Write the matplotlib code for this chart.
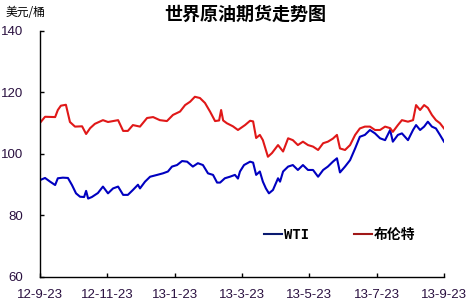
import numpy as np
import matplotlib
matplotlib.use("Agg")
import matplotlib.pyplot as plt

plt.rcParams['font.family'] = ['Liberation Sans', 'Noto Sans CJK SC', 'DejaVu Sans']

# x positions are months after 2012-09-23
brent_x = [0.03, 0.15, 0.45, 0.53, 0.62, 0.77, 0.89, 1.04, 1.25, 1.37, 1.49, 1.63, 1.87, 2.02,
           2.32, 2.47, 2.61, 2.76, 2.97, 3.18, 3.36, 3.56, 3.77, 3.95, 4.16, 4.31, 4.46, 4.60,
           4.75, 4.90, 5.05, 5.20, 5.32, 5.38, 5.44, 5.55, 5.73, 5.88, 6.09, 6.24, 6.33, 6.42,
           6.53, 6.62, 6.77, 6.89, 7.07, 7.22, 7.37, 7.51, 7.66, 7.81, 7.96, 8.11, 8.26, 8.41,
           8.55, 8.70, 8.82, 8.91, 9.06, 9.21, 9.36, 9.50, 9.65, 9.80, 9.95, 10.10, 10.25, 10.40,
           10.48, 10.63, 10.75, 10.93, 11.08, 11.17, 11.29, 11.41, 11.52, 11.64, 11.76, 11.88, 12.00]
brent = [110.5, 112.1, 112.0, 114.3, 115.7, 116.0, 110.4, 108.9, 109.0, 106.5, 108.4, 109.8, 111.0, 110.4,
         111.0, 107.5, 107.5, 109.4, 108.9, 111.7, 112.0, 111.0, 110.7, 112.7, 113.8, 115.9, 117.0, 118.6,
         118.2, 116.6, 113.8, 110.7, 110.9, 114.3, 110.9, 110.0, 109.0, 107.8, 109.4, 110.8, 110.6, 105.2,
         106.2, 104.5, 99.1, 100.3, 102.9, 100.8, 105.1, 104.5, 102.9, 104.0, 102.9, 102.4, 101.3, 103.5,
         104.0, 105.0, 106.2, 101.8, 101.3, 102.9, 106.2, 108.3, 108.9, 108.9, 107.8, 107.8, 108.9, 108.4,
         107.2, 109.4, 111.0, 110.5, 111.0, 115.9, 114.3, 115.9, 115.0, 112.7, 111.0, 110.0, 108.3]

wti_x = [0.00, 0.15, 0.30, 0.45, 0.53, 0.68, 0.83, 0.95, 1.07, 1.19, 1.31, 1.37, 1.43, 1.54, 1.72,
         1.87, 2.02, 2.17, 2.32, 2.47, 2.61, 2.76, 2.91, 2.97, 3.12, 3.27, 3.48, 3.65, 3.80, 3.92,
         4.07, 4.22, 4.37, 4.54, 4.69, 4.84, 4.99, 5.14, 5.26, 5.35, 5.49, 5.64, 5.79, 5.88, 5.94,
         6.06, 6.24, 6.33, 6.42, 6.53, 6.62, 6.71, 6.80, 6.92, 7.07, 7.13, 7.22, 7.37, 7.51, 7.66,
         7.81, 7.96, 8.11, 8.26, 8.41, 8.55, 8.70, 8.82, 8.91, 9.06, 9.21, 9.36, 9.50, 9.65, 9.80,
         9.95, 10.10, 10.25, 10.40, 10.48, 10.63, 10.75, 10.93, 11.08, 11.17, 11.29, 11.41, 11.52,
         11.64, 11.76, 11.88, 12.00]
wti = [91.5, 92.2, 91.0, 89.9, 92.1, 92.3, 92.2, 89.9, 87.2, 86.1, 86.0, 88.0, 85.5, 86.0, 87.3,
       89.4, 87.2, 88.8, 89.4, 86.7, 86.7, 88.3, 90.0, 88.8, 91.0, 92.6, 93.2, 93.7, 94.3, 95.9,
       96.4, 97.7, 97.5, 95.9, 97.0, 96.4, 93.7, 93.2, 90.7, 90.7, 92.1, 92.6, 93.2, 92.0, 94.3,
       96.4, 97.5, 97.2, 93.2, 94.3, 91.0, 88.8, 87.2, 88.3, 92.1, 91.0, 94.3, 95.9, 96.4, 94.8,
       96.4, 94.8, 94.8, 92.6, 94.8, 95.9, 97.5, 98.6, 94.0, 95.9, 98.0, 101.8, 105.6, 106.2, 107.8,
       106.7, 105.1, 104.5, 107.8, 104.0, 106.2, 106.7, 104.5, 107.8, 109.4, 107.8, 108.9, 110.5,
       108.9, 108.3, 106.2, 104.0]

tick_pos = [0, 2, 4, 6, 8, 10, 12]
tick_labels = ["12-9-23", "12-11-23", "13-1-23", "13-3-23", "13-5-23", "13-7-23", "13-9-23"]

fig = plt.figure(figsize=(4.71, 3.06), dpi=100)
ax = fig.add_axes([0.0849, 0.0948, 0.8578, 0.804])

l1, = ax.plot(wti_x, wti, color="#0000c0", lw=1.5)
l2, = ax.plot(brent_x, brent, color="#e01818", lw=1.5)

ax.set_xlim(0, 12)
ax.set_ylim(60, 140)
ax.set_yticks([60, 80, 100, 120, 140])
ax.set_xticks(tick_pos)
ax.set_xticklabels(tick_labels)
ax.tick_params(direction="in", length=3, width=1, labelsize=9.5, colors="black",
               labelcolor="#2a1040")
ax.tick_params(axis="x", pad=9)
ax.tick_params(axis="y", pad=12)
for s in ["top", "right"]:
    ax.spines[s].set_visible(False)
for s in ["left", "bottom"]:
    ax.spines[s].set_linewidth(1)

fig.text(0.52, 0.952, "世界原油期货走势图", ha="center", va="center", fontsize=13,
         fontweight="bold", family=['Noto Sans CJK SC', 'DejaVu Sans'])
fig.text(0.012, 0.96, "美元/桶", ha="left", va="center", fontsize=8.5,
         family=['Noto Sans CJK SC', 'DejaVu Sans'])

h1, = ax.plot([], [], color="#0a1a70", lw=1.5)
h2, = ax.plot([], [], color="#a01818", lw=1.5)
ax.legend([h1, h2], ["WTI", "布伦特"], loc="lower right", bbox_to_anchor=(0.96, 0.09),
          ncol=2, frameon=False, handlelength=1.3, handletextpad=0.15, columnspacing=3.2,
          prop={"family": ['DejaVu Sans Mono', 'Noto Sans CJK SC'], "weight": "bold", "size": 10})

fig.savefig("out.png", dpi=100)
